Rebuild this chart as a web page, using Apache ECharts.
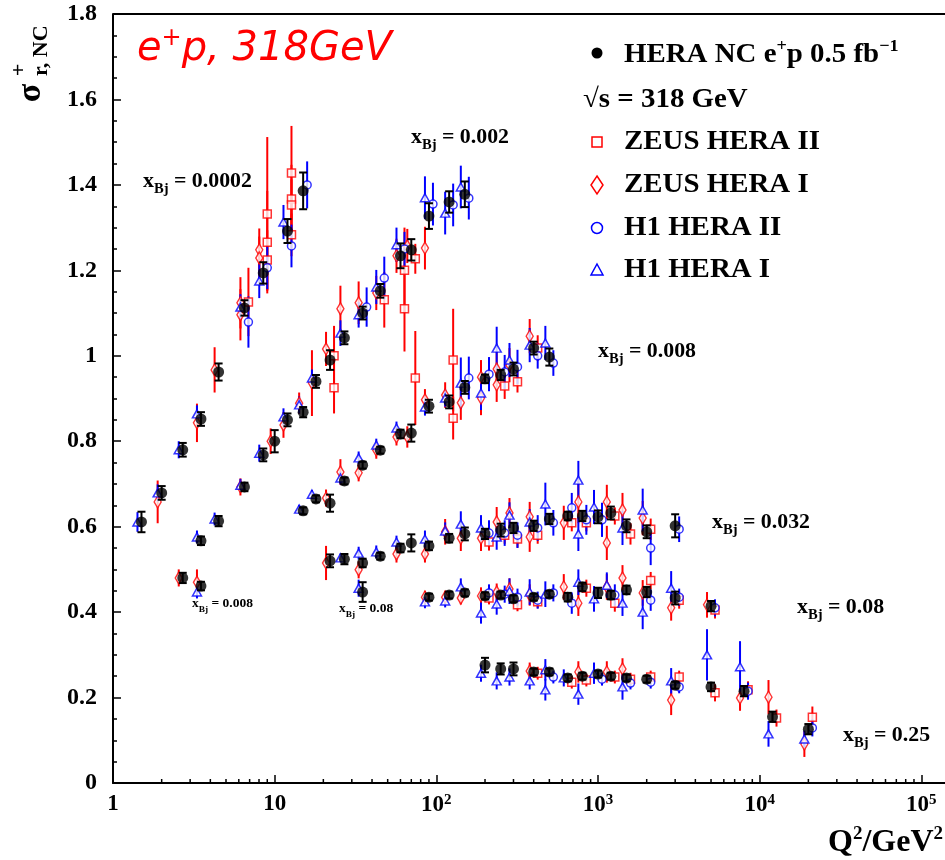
<!DOCTYPE html>
<html>
<head>
<meta charset="utf-8">
<script src="https://cdn.jsdelivr.net/npm/echarts@6/dist/echarts.min.js"></script>
<style>
  html, body { margin: 0; padding: 0; background: #fff; }
  #chart { width: 945px; height: 860px; }
</style>
</head>
<body>
<div id="chart"></div>
<script>
// points: [Q2, sigma_r, error]
var heraNC = [
  [1.5,0.611,0.024],[2,0.679,0.016],[2.7,0.780,0.016],[3.5,0.852,0.016],[4.5,0.962,0.02],[6.5,1.112,0.018],[8.5,1.194,0.025],[12,1.292,0.028],[15,1.386,0.043],
  [3.5,0.567,0.01],[4.5,0.613,0.012],[6.5,0.693,0.01],[8.5,0.768,0.015],[10,0.80,0.026],[12,0.85,0.015],[15,0.868,0.012],[18,0.94,0.015],[22,0.99,0.023],[27,1.042,0.015],[35,1.10,0.015],[45,1.152,0.016],[60,1.234,0.029],[70,1.248,0.025],[90,1.327,0.03],[120,1.36,0.025],[150,1.378,0.03],
  [2.7,0.48,0.012],[3.5,0.461,0.01],
  [15,0.637,0.008],[18,0.665,0.008],[22,0.655,0.02],[27,0.707,0.008],[35,0.744,0.008],[45,0.779,0.008],[60,0.817,0.01],[70,0.819,0.02],[90,0.882,0.015],[120,0.892,0.015],[150,0.926,0.015],[200,0.946,0.01],[250,0.955,0.012],[300,0.969,0.015],[400,1.018,0.015],[500,0.997,0.02],
  [22,0.52,0.015],[27,0.524,0.012],[35,0.515,0.01],[45,0.531,0.008],[60,0.55,0.01],[70,0.562,0.02],[90,0.555,0.01],[120,0.573,0.01],[150,0.583,0.015],[200,0.583,0.012],[250,0.592,0.015],[300,0.597,0.012],[400,0.602,0.012],[500,0.618,0.012],[650,0.625,0.01],[800,0.625,0.012],[1000,0.623,0.015],[1200,0.632,0.015],[1500,0.602,0.015],[2000,0.588,0.015],[3000,0.602,0.027],
  [35,0.447,0.023],
  [90,0.435,0.008],[120,0.44,0.008],[150,0.445,0.008],[200,0.438,0.008],[250,0.44,0.008],[300,0.431,0.008],[400,0.435,0.008],[500,0.442,0.008],[650,0.435,0.01],[800,0.459,0.01],[1000,0.445,0.012],[1200,0.44,0.01],[1500,0.452,0.01],[2000,0.447,0.012],[3000,0.433,0.015],[5000,0.414,0.012],
  [200,0.276,0.017],[250,0.267,0.013],[300,0.267,0.015],[400,0.26,0.008],[500,0.26,0.008],[650,0.246,0.008],[800,0.25,0.008],[1000,0.255,0.008],[1200,0.25,0.008],[1500,0.246,0.008],[2000,0.243,0.008],[3000,0.229,0.008],[5000,0.225,0.01],[8000,0.215,0.012],[12000,0.155,0.012],[20000,0.126,0.012]
];

var zeusII = [
  [6.5,1.126,0.08],[8.5,1.332,0.18],[8.5,1.266,0.12],[8.5,1.224,0.07],[12,1.428,0.11],[12,1.367,0.08],[12,1.353,0.06],[12,1.283,0.05],
  [22,1.0,0.07],[22,0.925,0.06],[45,1.131,0.065],[60,1.2,0.1],[60,1.11,0.1],[70,1.227,0.035],
  [70,0.948,0.11],[120,0.99,0.12],[120,0.854,0.05],[250,0.929,0.03],[300,0.939,0.025],[400,1.018,0.03],
  [200,0.564,0.02],[250,0.58,0.02],[300,0.571,0.02],[400,0.58,0.02],[650,0.609,0.02],[800,0.609,0.02],[1200,0.625,0.02],[1500,0.583,0.025],[2000,0.594,0.025],
  [200,0.433,0.015],[300,0.417,0.015],[400,0.424,0.015],[800,0.456,0.02],[1200,0.421,0.02],[2000,0.474,0.02],[3000,0.428,0.02],[5000,0.405,0.02],
  [400,0.257,0.015],[650,0.236,0.015],[800,0.241,0.015],[1200,0.248,0.015],[1500,0.243,0.015],[2000,0.248,0.015],[3000,0.248,0.015],[5000,0.211,0.02],[8000,0.218,0.02],[12000,0.152,0.02],[20000,0.154,0.025]
];

var zeusI = [
  [2,0.658,0.05],[3.5,0.843,0.045],[4.5,0.967,0.053],[6.5,1.124,0.06],[6.5,1.096,0.06],[8.5,1.248,0.05],[8.5,1.229,0.05],
  [6.5,0.693,0.02],[10,0.80,0.03],[12,0.838,0.03],[15,0.889,0.025],[18,0.936,0.077],[22,1.016,0.04],[27,1.11,0.054],[35,1.124,0.05],[45,1.147,0.04],[60,1.234,0.04],[70,1.257,0.04],[90,1.252,0.05],
  [2.7,0.48,0.02],[3.5,0.47,0.03],
  [22,0.667,0.02],[27,0.728,0.03],[35,0.726,0.02],[45,0.779,0.02],[60,0.81,0.02],[70,0.81,0.025],[90,0.897,0.025],[120,0.908,0.03],[150,0.89,0.04],[200,0.95,0.04],[200,0.901,0.04],[250,0.969,0.04],[250,0.932,0.04],[300,0.978,0.04],[400,1.046,0.04],
  [22,0.515,0.04],[35,0.499,0.02],[60,0.536,0.02],[90,0.536,0.02],[120,0.588,0.03],[150,0.573,0.03],[200,0.573,0.03],[250,0.611,0.035],[300,0.632,0.035],[400,0.623,0.035],[400,0.576,0.035],[650,0.609,0.04],[800,0.658,0.05],[1200,0.658,0.04],[1200,0.562,0.04],[1500,0.639,0.04],[2000,0.62,0.04],
  [90,0.435,0.015],[120,0.435,0.015],[150,0.433,0.015],[200,0.438,0.02],[250,0.447,0.02],[300,0.454,0.025],[400,0.44,0.025],[650,0.459,0.03],[800,0.421,0.03],[1200,0.459,0.03],[1500,0.48,0.03],[2000,0.445,0.03],[3000,0.41,0.03],[5000,0.417,0.03],
  [400,0.262,0.02],[800,0.26,0.025],[1200,0.26,0.025],[1500,0.267,0.025],[3000,0.194,0.035],[8000,0.199,0.03],[12000,0.201,0.04],[20000,0.091,0.03]
];

var h1II = [
  [6.5,1.079,0.06],[8.5,1.206,0.05],[12,1.257,0.05],[15,1.40,0.055],
  [35,1.114,0.046],[45,1.182,0.05],[60,1.25,0.04],[90,1.355,0.05],[120,1.353,0.05],[150,1.369,0.05],
  [150,0.948,0.05],[200,0.957,0.04],[250,0.962,0.04],[300,0.974,0.04],[400,1.0,0.03],[500,0.983,0.03],
  [200,0.585,0.03],[250,0.585,0.03],[300,0.58,0.03],[400,0.597,0.03],[500,0.609,0.03],[650,0.644,0.035],[800,0.616,0.035],[1000,0.616,0.04],[2000,0.55,0.04],[3000,0.594,0.03],
  [200,0.445,0.02],[250,0.442,0.02],[300,0.435,0.02],[400,0.428,0.02],[500,0.445,0.02],[650,0.421,0.025],[1200,0.44,0.025],[2000,0.428,0.025],[3000,0.435,0.02],[5000,0.41,0.02],
  [500,0.248,0.015],[1000,0.243,0.015],[1500,0.234,0.015],[2000,0.236,0.015],[3000,0.225,0.015],[8000,0.215,0.02],[20000,0.129,0.02]
];

var h1I = [
  [1.5,0.611,0.023],[2,0.679,0.02],[2.7,0.78,0.02],[3.5,0.864,0.02],[6.5,1.114,0.03],[8.5,1.175,0.04],[12,1.313,0.04],
  [3.5,0.576,0.015],[4.5,0.618,0.015],[6.5,0.697,0.015],[8.5,0.772,0.02],[12,0.857,0.02],[15,0.885,0.02],[18,0.948,0.02],[27,1.053,0.03],[35,1.096,0.03],[45,1.161,0.04],[60,1.26,0.04],[90,1.37,0.05],[120,1.334,0.05],[150,1.395,0.05],
  [3.5,0.447,0.015],
  [15,0.641,0.01],[18,0.676,0.01],[27,0.714,0.015],[35,0.761,0.015],[45,0.791,0.015],[60,0.831,0.015],[90,0.88,0.02],[120,0.901,0.02],[150,0.936,0.06],[200,0.913,0.04],[250,1.018,0.05],[300,0.99,0.04],[400,1.025,0.04],[500,1.03,0.04],
  [27,0.527,0.01],[35,0.538,0.015],[45,0.541,0.015],[60,0.564,0.015],[90,0.571,0.02],[120,0.59,0.02],[150,0.606,0.03],[200,0.597,0.03],[250,0.576,0.03],[300,0.627,0.03],[400,0.611,0.03],[500,0.653,0.05],[800,0.709,0.045],[800,0.583,0.04],[1000,0.646,0.04],[1500,0.597,0.04],[2000,0.639,0.05],
  [35,0.456,0.02],
  [90,0.424,0.015],[120,0.426,0.015],[150,0.459,0.02],[200,0.398,0.025],[250,0.419,0.025],[300,0.449,0.03],[400,0.447,0.03],[500,0.442,0.03],[800,0.47,0.03],[1000,0.431,0.03],[1200,0.463,0.03],[1500,0.421,0.03],[2000,0.40,0.04],[3000,0.456,0.04],
  [200,0.257,0.02],[250,0.239,0.02],[300,0.248,0.02],[400,0.239,0.02],[500,0.218,0.025],[500,0.265,0.025],[650,0.246,0.02],[800,0.208,0.025],[1000,0.257,0.025],[1500,0.225,0.03],[3000,0.239,0.03],[5000,0.30,0.06],[8000,0.272,0.06],[12000,0.115,0.03],[20000,0.103,0.02]
];

var binLabels = ['0.0002', '0.002', '0.008', '0.032', '0.08', '0.25'];
var smallBinLabels = ['0.008', '0.08'];
var legendNames = ['ZEUS HERA II', 'ZEUS HERA I', 'H1 HERA II', 'H1 HERA I'];

var serif = "'Liberation Serif', 'DejaVu Serif', serif";
var RED = '#ff0000', BLUE = '#0000ff';

// minor ticks of the log axis, 2..9 in each decade
var minorX = [];
for (var k = 0; k < 5; k++) {
  for (var m = 2; m <= 9; m++) minorX.push([m * Math.pow(10, k), 0]);
}

function errBars(data, color, dx, cap, z) {
  return {
    type: 'custom',
    z: z,
    data: data,
    encode: { x: 0, y: 1 },
    silent: true,
    renderItem: function (params, api) {
      var x = api.value(0), y = api.value(1), e = api.value(2);
      var hi = api.coord([x, y + e]);
      var lo = api.coord([x, y - e]);
      var px = hi[0] + dx;
      var st = { stroke: color, lineWidth: 2 };
      var kids = [{ type: 'line', shape: { x1: px, y1: hi[1], x2: px, y2: lo[1] }, style: st }];
      if (cap) {
        kids.push({ type: 'line', shape: { x1: px - cap, y1: hi[1], x2: px + cap, y2: hi[1] }, style: st });
        kids.push({ type: 'line', shape: { x1: px - cap, y1: lo[1], x2: px + cap, y2: lo[1] }, style: st });
      }
      return { type: 'group', children: kids };
    }
  };
}

function marks(data, symbol, size, color, dx, z) {
  return {
    type: 'scatter',
    z: z,
    data: data,
    symbol: symbol,
    symbolSize: size,
    symbolOffset: [dx, 0],
    silent: true,
    itemStyle: { color: '#fff', borderColor: color, borderWidth: 1.5 }
  };
}

function xLabel(v) {
  var l = Math.log10(v), e = Math.round(l);
  if (Math.abs(l - e) > 1e-6) return '';
  if (e === 0) return '1';
  if (e === 1) return '10';
  return '10{s|' + e + '}';
}

function binText(v, x, y, big) {
  var f = big ? 21 : 13, fs = big ? 14 : 9;
  return {
    type: 'text', x: x, y: y, scaleX: 1.04,
    style: {
      text: '{a|x}{b|Bj}{a| = ' + v + '}',
      textVerticalAlign: 'middle',
      rich: {
        a: { font: 'bold ' + f + 'px ' + serif, fill: '#000', lineHeight: f + 8 },
        b: { font: 'bold ' + fs + 'px ' + serif, fill: '#000', verticalAlign: 'bottom' }
      }
    }
  };
}

function legendText(t, y) {
  return {
    type: 'text', x: 624, y: y, scaleX: 1.07,
    style: { text: t, font: 'bold 27px ' + serif, fill: '#000', textVerticalAlign: 'middle' }
  };
}

var chart = echarts.init(document.getElementById('chart'));

chart.setOption({
  animation: false,
  backgroundColor: '#fff',
  grid: { left: 113, top: 14, width: 832, height: 769 },
  xAxis: {
    type: 'log', logBase: 10, min: 1, max: 140000,
    axisLine: { lineStyle: { color: '#000', width: 2 } },
    axisTick: { inside: true, length: 8, lineStyle: { color: '#000', width: 1.5 } },
    splitLine: { show: false },
    axisLabel: {
      margin: 10, showMaxLabel: false, formatter: xLabel,
      color: '#000', fontFamily: serif, fontWeight: 'bold', fontSize: 23,
      rich: { s: { fontFamily: serif, fontWeight: 'bold', fontSize: 15, color: '#000', verticalAlign: 'top', padding: [0, 0, 10, 0] } }
    }
  },
  yAxis: {
    type: 'value', min: 0, max: 1.8, interval: 0.2,
    axisLine: { lineStyle: { color: '#000', width: 2 } },
    axisTick: { inside: true, length: 8, lineStyle: { color: '#000', width: 1.5 } },
    minorTick: { show: true, splitNumber: 4, length: 4, lineStyle: { color: '#000', width: 1.5 } },
    splitLine: { show: false },
    axisLabel: { margin: 16, color: '#000', fontFamily: serif, fontWeight: 'bold', fontSize: 24 }
  },
  series: [
    {
      type: 'custom', z: 1, silent: true, data: minorX, encode: { x: 0, y: 1 },
      renderItem: function (params, api) {
        var p = api.coord([api.value(0), 0]);
        return { type: 'line', shape: { x1: p[0], y1: p[1], x2: p[0], y2: p[1] - 4 }, style: { stroke: '#000', lineWidth: 1.5 } };
      }
    },
    errBars(zeusII, RED, 4, 0, 2),
    errBars(zeusI, RED, -4, 0, 2),
    errBars(h1II, BLUE, 4, 0, 2),
    errBars(h1I, BLUE, -4, 0, 2),
    marks(zeusII, 'rect', 8, RED, 4, 3),
    marks(zeusI, 'diamond', [7, 12], RED, -4, 3),
    marks(h1II, 'circle', 8, BLUE, 4, 3),
    marks(h1I, 'triangle', [9, 8], BLUE, -4, 3),
    errBars(heraNC, '#000', 0, 4, 4),
    {
      type: 'scatter', z: 5, silent: true, data: heraNC,
      symbol: 'circle', symbolSize: 11, itemStyle: { color: '#000' }
    }
  ],
  graphic: [
    // top frame line, the right side of the frame is cut off
    { type: 'line', shape: { x1: 113, y1: 14, x2: 945, y2: 14 }, style: { stroke: '#000', lineWidth: 2 } },
    {
      type: 'text', x: 137, y: 50,
      style: {
        text: '{t|e}{s|+}{t|p, 318GeV}', textVerticalAlign: 'middle',
        rich: {
          t: { font: 'italic 40px "DejaVu Sans", sans-serif', fill: RED, lineHeight: 46 },
          s: { font: 'italic 24px "DejaVu Sans", sans-serif', fill: RED, verticalAlign: 'top' }
        }
      }
    },
    // y axis title
    { type: 'text', x: 31, y: 93, rotation: Math.PI / 2, style: { text: 'σ', font: 'bold 34px ' + serif, fill: '#000', textAlign: 'center', textVerticalAlign: 'middle' } },
    { type: 'text', x: 19, y: 70, rotation: Math.PI / 2, style: { text: '+', font: 'bold 22px ' + serif, fill: '#000', textAlign: 'center', textVerticalAlign: 'middle' } },
    { type: 'text', x: 41, y: 76, rotation: Math.PI / 2, style: { text: 'r, NC', font: 'bold 22px ' + serif, fill: '#000', textAlign: 'left', textVerticalAlign: 'middle' } },
    // x axis title
    {
      type: 'text', x: 828, y: 843,
      style: {
        text: '{t|Q}{s|2}{t|/GeV}{s|2}', textVerticalAlign: 'middle',
        rich: {
          t: { font: 'bold 32px ' + serif, fill: '#000', lineHeight: 36 },
          s: { font: 'bold 19px ' + serif, fill: '#000', verticalAlign: 'top' }
        }
      }
    },
    // legend
    { type: 'circle', shape: { cx: 597, cy: 53, r: 5.5 }, style: { fill: '#000' } },
    {
      type: 'text', x: 624, y: 55, scaleX: 1.07,
      style: {
        text: '{t|HERA NC e}{s|+}{t|p 0.5 fb}{s|−1}', textVerticalAlign: 'middle',
        rich: {
          t: { font: 'bold 27px ' + serif, fill: '#000', lineHeight: 34 },
          s: { font: 'bold 17px ' + serif, fill: '#000', verticalAlign: 'top' }
        }
      }
    },
    { type: 'text', x: 583, y: 100, scaleX: 1.07, style: { text: '√s = 318 GeV', font: 'bold 27px ' + serif, fill: '#000', textVerticalAlign: 'middle' } },
    { type: 'rect', shape: { x: 592, y: 137, width: 10, height: 10 }, style: { fill: '#fff', stroke: RED, lineWidth: 1.5 } },
    { type: 'polygon', shape: { points: [[597, 176], [603, 185], [597, 194], [591, 185]] }, style: { fill: '#fff', stroke: RED, lineWidth: 1.5 } },
    { type: 'circle', shape: { cx: 597, cy: 228, r: 5.5 }, style: { fill: '#fff', stroke: BLUE, lineWidth: 1.5 } },
    { type: 'polygon', shape: { points: [[597, 264], [603, 275], [591, 275]] }, style: { fill: '#fff', stroke: BLUE, lineWidth: 1.5 } },
    legendText(legendNames[0], 142),
    legendText(legendNames[1], 185),
    legendText(legendNames[2], 228),
    legendText(legendNames[3], 270),
    // bin labels
    binText(binLabels[0], 143, 182, true),
    binText(binLabels[1], 411, 138, true),
    binText(binLabels[2], 598, 352, true),
    binText(binLabels[3], 712, 523, true),
    binText(binLabels[4], 797, 608, true),
    binText(binLabels[5], 843, 736, true),
    binText(smallBinLabels[0], 192, 604, false),
    binText(smallBinLabels[1], 339, 609, false)
  ]
});
</script>
</body>
</html>
